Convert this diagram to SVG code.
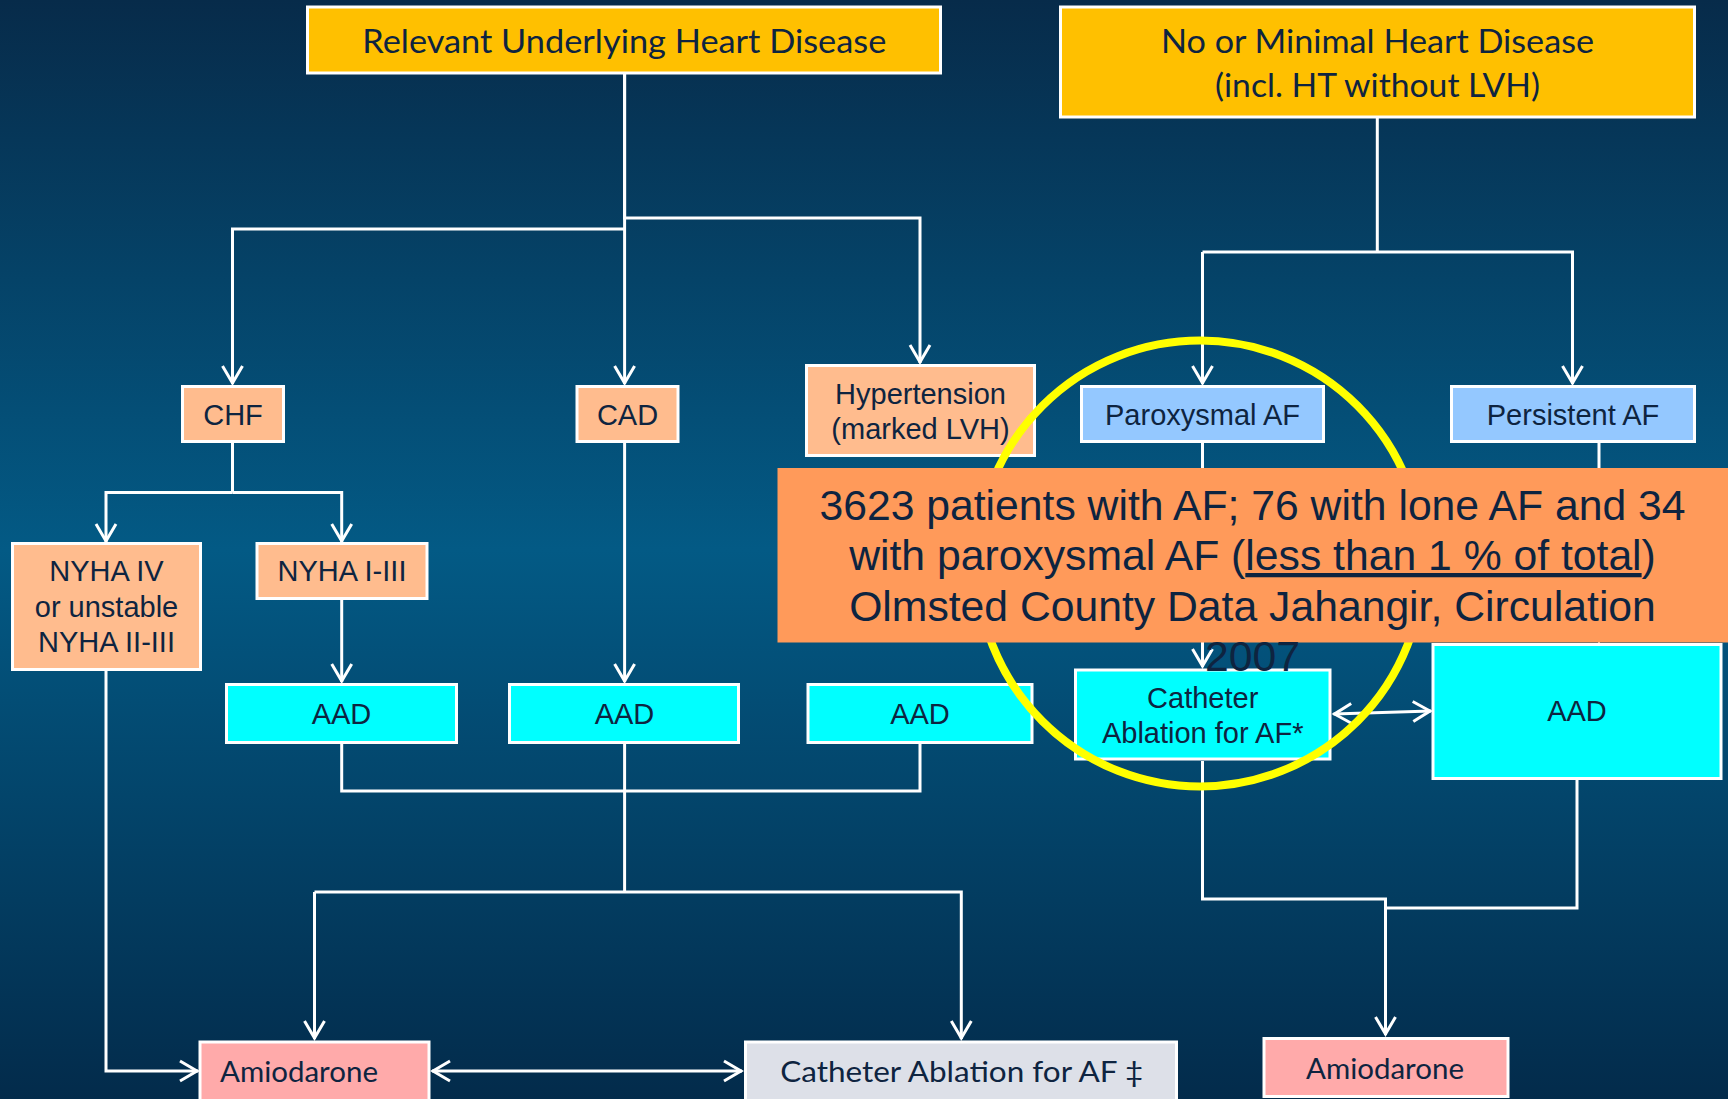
<svg xmlns="http://www.w3.org/2000/svg" width="1728" height="1099" viewBox="0 0 1728 1099">
<defs>
<linearGradient id="bg" x1="0" y1="0" x2="0" y2="1">
<stop offset="0" stop-color="#072B4A"/>
<stop offset="0.5" stop-color="#035A85"/>
<stop offset="1" stop-color="#032B4B"/>
</linearGradient>
<marker id="arr" markerUnits="userSpaceOnUse" markerWidth="30" markerHeight="30" viewBox="-25 -15 30 30" refX="0" refY="0" orient="auto-start-reverse">
<path d="M-18,-10 L-1,0 L-18,10" fill="none" stroke="#FFFFFF" stroke-width="3"/>
</marker>
<style>
.c{fill:none;stroke:#FFFFFF;stroke-width:3}
.a{marker-end:url(#arr)}
.b{marker-start:url(#arr);marker-end:url(#arr)}
.box{stroke:#FFFFFF;stroke-width:3}
.gold{fill:#FFC000}
.peach{fill:#FFBC8E}
.blue{fill:#94C8FF}
.cyan{fill:#00FFFF}
.pink{fill:#FFAAAA}
.gray{fill:#DDE0E8}
.t{font-family:"Liberation Sans",Arial,sans-serif;font-size:29px;fill:#0E2440;text-anchor:middle}
.k{font-family:Lato,"Open Sans",sans-serif;fill:#0E2440;text-anchor:middle}
.big{font-family:"Liberation Sans",Arial,sans-serif;font-size:42.7px;fill:#0E2440;text-anchor:middle}
</style>
</defs>
<rect x="0" y="0" width="1728" height="1099" fill="url(#bg)"/>

<g id="connectors">
<path class="c a" d="M624.6,74 V218 H920 V363"/>
<path class="c a" d="M624.6,74 V384"/>
<path class="c a" d="M624.6,229 H232.5 V384"/>
<path class="c" d="M232.5,443 V492.5"/>
<path class="c a" d="M232.5,492.5 H106 V542"/>
<path class="c a" d="M232.5,492.5 H341.7 V542"/>
<path class="c a" d="M341.7,600 V682"/>
<path class="c a" d="M624.6,443 V682"/>
<path class="c" d="M341.7,744 V791 H920 V744"/>
<path class="c" d="M624.6,744 V892"/>
<path class="c a" d="M314.5,892 H961.3 V1039"/>
<path class="c a" d="M314.5,892 V1039"/>
<path class="c a" d="M106,671 V1071 H198"/>
<path class="c b" d="M432,1071 H742"/>
<path class="c" d="M1377.3,118 V252"/>
<path class="c a" d="M1202.5,252 H1572.5 V384"/>
<path class="c a" d="M1202.5,252 V384"/>
<path class="c a" d="M1202.5,443 V667"/>
<path class="c a" d="M1599,443 V642"/>
<path class="c b" d="M1333.5,714 L1431,711"/>
<path class="c a" d="M1202.5,761 V899 H1385.5 V1035"/>
<path class="c" d="M1577,780 V908 H1385.5"/>
</g>

<g id="relevant">
<rect class="box gold" x="307.5" y="7" width="633" height="66"/>
<text class="k" x="624.3" y="52.5" font-size="33.5" textLength="524" lengthAdjust="spacingAndGlyphs">Relevant Underlying Heart Disease</text>
</g>
<g id="nominimal">
<rect class="box gold" x="1060.5" y="7" width="634" height="110"/>
<text class="k" x="1377.5" y="52.5" font-size="33.5" textLength="433" lengthAdjust="spacingAndGlyphs">No or Minimal Heart Disease</text>
<text class="k" x="1377.5" y="97" font-size="33.5" textLength="325" lengthAdjust="spacingAndGlyphs">(incl. HT without LVH)</text>
</g>
<g id="chf">
<rect class="box peach" x="182.5" y="386.5" width="101" height="55"/>
<text class="t" x="233" y="424.5">CHF</text>
</g>
<g id="cad">
<rect class="box peach" x="577" y="386.5" width="101" height="55"/>
<text class="t" x="627.5" y="424.5">CAD</text>
</g>
<g id="hypertension">
<rect class="box peach" x="806.5" y="365.5" width="228" height="90"/>
<text class="t" x="920.5" y="404">Hypertension</text>
<text class="t" x="920.5" y="438.5">(marked LVH)</text>
</g>
<g id="paroxysmal">
<rect class="box blue" x="1081.5" y="386.5" width="242" height="55"/>
<text class="t" x="1202.5" y="424.5">Paroxysmal AF</text>
</g>
<g id="persistent">
<rect class="box blue" x="1451.5" y="386.5" width="243" height="55"/>
<text class="t" x="1573" y="424.5">Persistent AF</text>
</g>
<g id="nyha4">
<rect class="box peach" x="12.5" y="543.5" width="188" height="126"/>
<text class="t" x="106.5" y="581">NYHA IV</text>
<text class="t" x="106.5" y="616.7">or unstable</text>
<text class="t" x="106.5" y="651.7">NYHA II-III</text>
</g>
<g id="nyha13">
<rect class="box peach" x="257" y="543.5" width="170" height="55"/>
<text class="t" x="342" y="581">NYHA I-III</text>
</g>
<g id="aad1">
<rect class="box cyan" x="226.5" y="684.5" width="230" height="58"/>
<text class="t" x="341.5" y="724">AAD</text>
</g>
<g id="aad2">
<rect class="box cyan" x="509.5" y="684.5" width="229" height="58"/>
<text class="t" x="624.5" y="724">AAD</text>
</g>
<g id="aad3">
<rect class="box cyan" x="808" y="684.5" width="224" height="58"/>
<text class="t" x="920" y="724">AAD</text>
</g>
<g id="catheter1">
<rect class="box cyan" x="1075.5" y="670" width="254.5" height="89"/>
<text class="t" x="1202.7" y="708">Catheter</text>
<text class="t" x="1202.7" y="742.5">Ablation for AF*</text>
</g>
<g id="aad4">
<rect class="box cyan" x="1433" y="644.5" width="288" height="134"/>
<text class="t" x="1577" y="720.5">AAD</text>
</g>
<g id="amiodarone1">
<rect class="box pink" x="200" y="1042" width="229" height="70"/>
<text class="k" x="299" y="1081.7" font-size="28" textLength="158" lengthAdjust="spacingAndGlyphs">Amiodarone</text>
</g>
<g id="catheter2">
<rect class="box gray" x="745.5" y="1042" width="431" height="70"/>
<text class="k" x="961.7" y="1081.7" font-size="28" textLength="363" lengthAdjust="spacingAndGlyphs">Catheter Ablation for AF ‡</text>
</g>
<g id="amiodarone2">
<rect class="box pink" x="1264" y="1038.5" width="244" height="58"/>
<text class="k" x="1385" y="1079.3" font-size="28" textLength="158" lengthAdjust="spacingAndGlyphs">Amiodarone</text>
</g>

<g id="highlight">
<circle cx="1200" cy="563.5" r="223" fill="none" stroke="#FFFF00" stroke-width="8"/>
</g>
<g id="note">
<rect x="777.5" y="468" width="951" height="174.5" fill="#FF9A5A"/>
<text class="big" x="1252.5" y="519.5">3623 patients with AF; 76 with lone AF and 34</text>
<text class="big" x="1252.5" y="570">with paroxysmal AF (<tspan text-decoration="underline">less than 1 % of total</tspan>)</text>
<text class="big" x="1252.5" y="620.5">Olmsted County Data Jahangir, Circulation</text>
<text class="big" x="1252.5" y="671">2007</text>
</g>
</svg>
